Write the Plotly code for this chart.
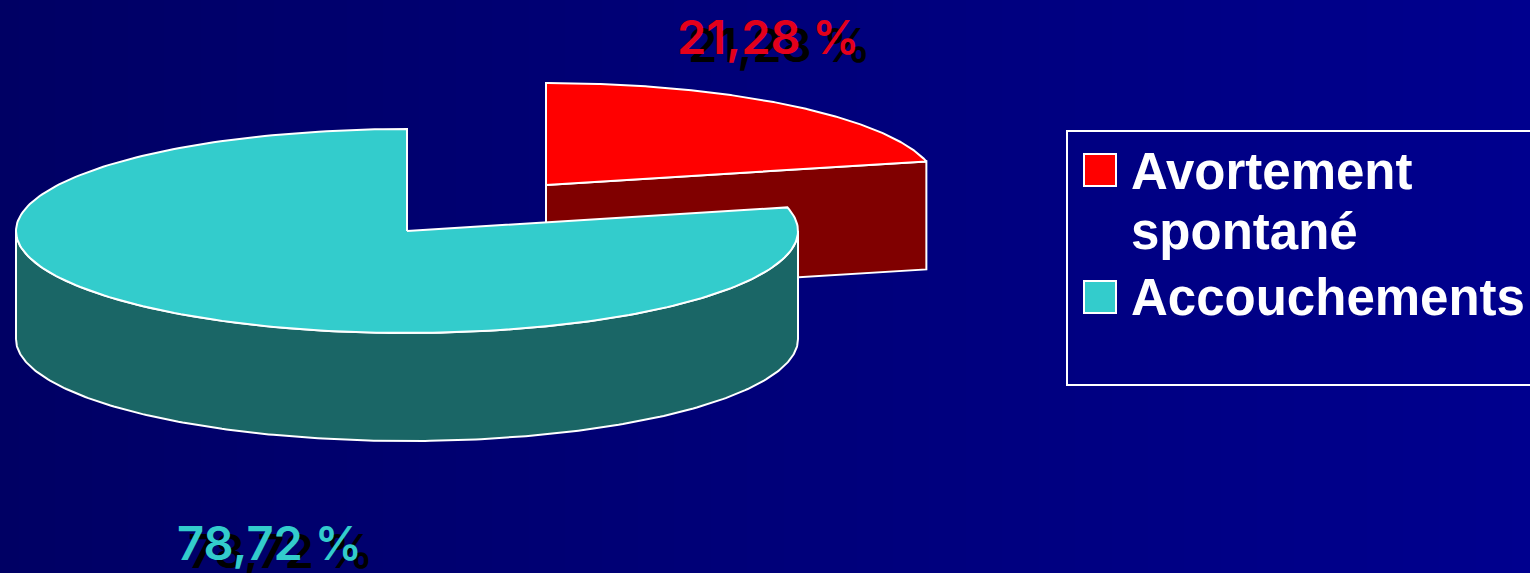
import numpy as np
import plotly.graph_objects as go

# ---- data ----
categories = ["Avortement spontané", "Accouchements"]
legend_lines = [["Avortement", "spontané"], ["Accouchements"]]
shares = [21.28, 78.72]
share_labels = ["21,28 %", "78,72 %"]

# ---- style ----
top_colors = ["#FF0000", "#33CCCC"]
side_colors = ["#800000", "#1A6666"]
label_colors = ["#E3001B", "#33CCCC"]
bg_colors = ["#000064", "#00008E"]
RX, RY, DEPTH = 391, 102, 108
centers = [(546, 185), (407, 231)]
label_pos = [(768, 36), (269, 542)]
LINE = dict(color="white", width=2)
W, H = 1530, 573


def arc(cx, cy, a0, a1, n=240):
    """Points of the projected circle, angle in degrees clockwise from 12 o'clock."""
    t = np.radians(np.linspace(a0, a1, n))
    return cx + RX * np.sin(t), cy - RY * np.cos(t)


fig = go.Figure()

# background gradient
fig.add_trace(go.Heatmap(
    x=[0, W], y=[0, H], z=[[0, 1], [0, 1]], zsmooth="best", showscale=False,
    colorscale=[[0, bg_colors[0]], [1, bg_colors[1]]], hoverinfo="skip",
))

ends = np.cumsum(shares) / np.sum(shares) * 360
starts = np.concatenate([[0], ends[:-1]])


def poly(x, y, color, name):
    fig.add_trace(go.Scatter(
        x=x, y=y, mode="lines", fill="toself", fillcolor=color, line=LINE,
        name=name, hoverinfo="name", showlegend=False,
    ))


# exploded red slice: cut face, then top
cx, cy = centers[0]
ax, ay = arc(cx, cy, starts[0], ends[0])
poly([cx, ax[-1], ax[-1], cx, cx], [cy, ay[-1], ay[-1] + DEPTH, cy + DEPTH, cy],
     side_colors[0], categories[0])
poly(np.r_[cx, ax, cx], np.r_[cy, ay, cy], top_colors[0], categories[0])

# large teal slice: rim, then top
cx, cy = centers[1]
rx, ry = arc(cx, cy, 90, 270)
poly(np.r_[rx, rx[::-1], rx[0]], np.r_[ry, ry[::-1] + DEPTH, ry[0]],
     side_colors[1], categories[1])
ax, ay = arc(cx, cy, starts[1], ends[1])
poly(np.r_[cx, ax, cx], np.r_[cy, ay, cy], top_colors[1], categories[1])

# percentage labels
annotations = []
for text, (px, py), col in zip(share_labels, label_pos, label_colors):
    annotations.append(dict(
        x=px, y=py, xref="x", yref="y", text=text, showarrow=False,
        xanchor="center", yanchor="middle",
        font=dict(family="Inter", size=47, weight=600, color=col,
                  shadow="11px 8px 0 #000000"),
    ))

# legend, drawn to keep the original's box and wrapped entry
shapes = [dict(type="rect", x0=1067, x1=1540, y0=131, y1=385,
               line=dict(color="white", width=2), fillcolor="rgba(0,0,0,0)", layer="above")]
swatch_y = [170, 297]
line_y = [[171, 231], [297]]
for col, sy, lines, ys in zip(top_colors, swatch_y, legend_lines, line_y):
    shapes.append(dict(type="rect", x0=1084, x1=1116, y0=sy - 16, y1=sy + 16,
                       fillcolor=col, line=LINE, layer="above"))
    for t, ly in zip(lines, ys):
        annotations.append(dict(
            x=1129, y=ly, xref="x", yref="y", text=t, showarrow=False,
            xanchor="left", yanchor="middle",
            font=dict(family="Liberation Sans", size=51, weight="bold", color="white"),
        ))

fig.update_layout(
    width=W, height=H, margin=dict(l=0, r=0, t=0, b=0),
    paper_bgcolor=bg_colors[0], plot_bgcolor=bg_colors[0], showlegend=False,
    xaxis=dict(range=[0, W], visible=False, fixedrange=True),
    yaxis=dict(range=[H, 0], visible=False, fixedrange=True),
    annotations=annotations, shapes=shapes,
)
fig.write_html("out.html", config={"displayModeBar": False},
               post_script="document.body.style.margin='0';document.body.style.overflow='hidden';")
